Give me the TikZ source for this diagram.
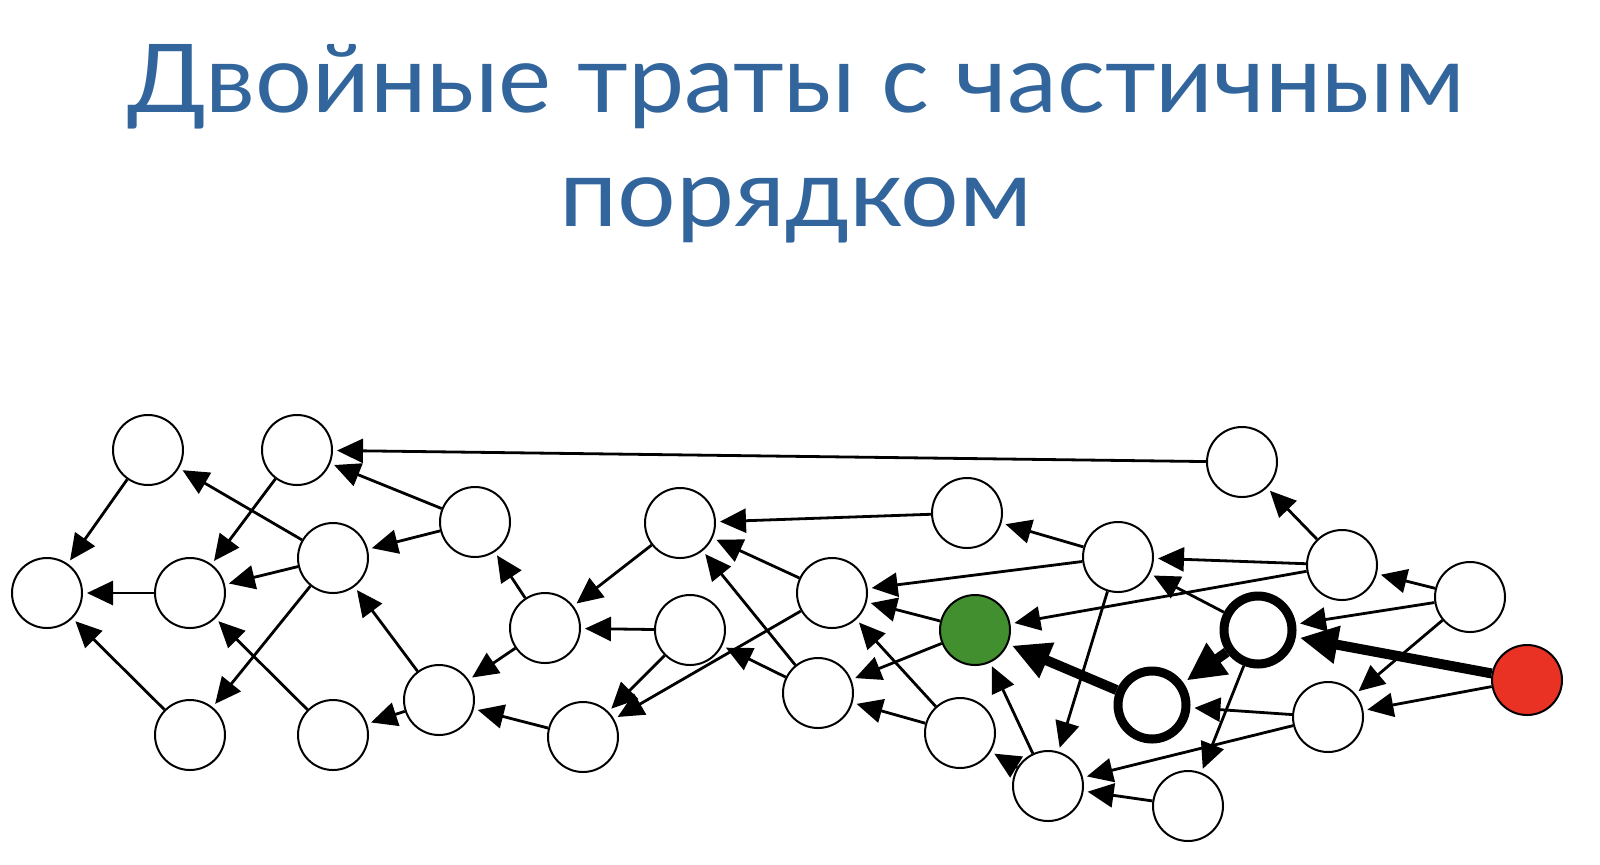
\documentclass[tikz,border=0pt]{standalone}
\usepackage{fontspec}
\setmainfont{Lato}
\usetikzlibrary{positioning,arrows.meta}
\definecolor{titleblue}{RGB}{49,101,156}
\definecolor{spentgreen}{RGB}{66,143,47}
\definecolor{spentred}{RGB}{233,50,35}

\begin{document}
\begin{tikzpicture}[x=0.5pt,y=-0.5pt]
                        \tikzstyle{every node}=[inner sep=0]
                        \tikzstyle{tx}=[circle,draw=black,line width=1pt,fill=white,minimum size=35pt]
                        \tikzstyle{txbold}=[tx,line width=4.5pt,minimum size=34pt]
                        \tikzstyle{txgreen}=[tx,fill=spentgreen]
                        \tikzstyle{txred}=[tx,fill=spentred]
                        \tikzstyle{edge}=[line width=1.4pt,-{Triangle[length=13pt,width=12pt]},shorten >=2pt]
                        \tikzstyle{edgebold}=[line width=5pt,-{Triangle[length=19pt,width=18pt]},shorten >=2pt]
                        \tikzstyle{title}=[text=titleblue,anchor=base,font=\fontsize{47.5}{57}\selectfont]
                        \useasboundingbox (0,0) rectangle (1600,864);
                        {
                            \node[title] (title1) at (796,112) {\scalebox{1.056}[1]{Двойные траты с частичным}};
                            \node[title] (title2) at (796,226) {\scalebox{1.09}[1]{порядком}};

                            % plain transactions
                            \foreach \name/\x/\y in {a1/148/450, a2/297/450, b1/47/593, b2/190/593,
                                c1/333/558, d1/475/522, e1/190/735, e2/333/735, f1/439/700,
                                g1/545/628, h1/583/737, i1/680/523, j1/690/630, k1/832/593,
                                l1/818/693, m1/967/513, n1/960/733, p1/1048/786, q1/1118/557,
                                s1/1188/806, t1/1242/462, r1/1342/565, v1/1470/597, u1/1328/717} {
                                \node[tx] (\name) at (\x,\y) {};
                            }
                            % the two spends and the path between them
                            \node[txgreen] (spend1) at (975,630) {};
                            \node[txred] (spend2) at (1527,680) {};
                            \node[txbold] (w1) at (1258,630) {};
                            \node[txbold] (w2) at (1152,705) {};

                            \foreach \from/\to in {a1/b1, a2/b2, c1/a1, d1/a2, t1/a2, d1/c1, c1/b2, b2/b1,
                                c1/e1, e1/b1, e2/b2, f1/c1, f1/e2, g1/d1, g1/f1, h1/f1, i1/g1, j1/g1,
                                j1/h1, k1/h1, m1/i1, k1/i1, l1/i1, l1/j1, q1/k1, spend1/k1, n1/k1,
                                spend1/l1, n1/l1, q1/m1, r1/q1, w1/q1, r1/spend1, q1/p1, p1/spend1,
                                p1/n1, w1/s1, u1/p1, u1/w2, s1/p1, r1/t1, v1/r1, v1/w1, v1/u1,
                                spend2/u1} {
                                \draw[edge] (\from) -- (\to);
                            }
                            \draw[edgebold] (spend2) -- (w1);
                            \draw[edgebold] (w1) -- (w2);
                            \draw[edgebold] (w2) -- (spend1);
                        }
\end{tikzpicture}
\end{document}
